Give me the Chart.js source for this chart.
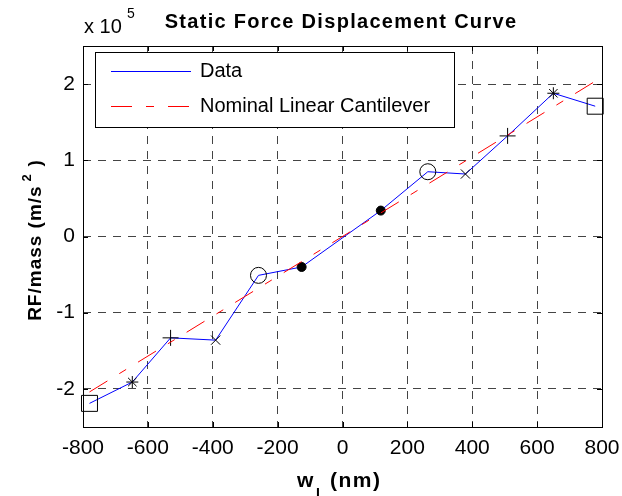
<!DOCTYPE html>
<html>
<head>
<meta charset="utf-8">
<script src="https://cdn.jsdelivr.net/npm/chart.js@4"></script>
<style>
  html, body { margin: 0; padding: 0; background: #fff; }
  #wrap { width: 622px; height: 496px; }
</style>
</head>
<body>
<div id="wrap"><canvas id="c" width="622" height="496"></canvas></div>
<script>
// measured displacement (nm) and RF/mass (m/s^2)
const dispNm = [-780, -648, -530, -391, -259, -126, 118, 263, 379, 509, 650, 779]
const rfMass = [-219000, -191000, -133000, -136000, -51000, -40000, 34000, 85000, 82000, 132000, 188000, 171000]
const markers = ['square', 'asterisk', 'plus', 'x', 'circle', 'dot', 'dot', 'circle', 'x', 'plus', 'asterisk', 'square']

// nominal linear cantilever end points
const nominalX = [-780, 780]
const nominalY = [-204000, 204000]

const xTicks = [-800, -600, -400, -200, 0, 200, 400, 600, 800]
const yTicks = [-200000, -100000, 0, 100000, 200000]

const FONT = "'Liberation Sans', Arial, sans-serif"

const markerStyle = {
    square:   {style: 'rect',     r: 11.3, fill: 'rgba(0,0,0,0)'},
    asterisk: {style: 'star',     r: 6,    fill: 'rgba(0,0,0,0)'},
    plus:     {style: 'cross',    r: 8,    fill: 'rgba(0,0,0,0)'},
    x:        {style: 'crossRot', r: 6.5,  fill: 'rgba(0,0,0,0)'},
    circle:   {style: 'circle',   r: 8,    fill: 'rgba(0,0,0,0)'},
    dot:      {style: 'circle',   r: 4.5,  fill: '#000'},
}

const matlabAxes = {
    id: 'matlabAxes',
    afterDatasetsDraw(chart){
        const {ctx, chartArea: a, scales} = chart
        ctx.save()
        ctx.strokeStyle = '#000'
        ctx.lineWidth = 1
        // inside ticks on all four sides
        ctx.beginPath()
        for (const v of xTicks){
            const px = Math.round(scales.x.getPixelForValue(v)) + 0.5
            ctx.moveTo(px, a.bottom); ctx.lineTo(px, a.bottom - 5)
            ctx.moveTo(px, a.top); ctx.lineTo(px, a.top + 5)
        }
        for (const v of yTicks){
            const py = Math.round(scales.y.getPixelForValue(v)) + 0.5
            ctx.moveTo(a.left, py); ctx.lineTo(a.left + 5, py)
            ctx.moveTo(a.right, py); ctx.lineTo(a.right - 5, py)
        }
        ctx.stroke()
        ctx.strokeRect(Math.round(a.left) + 0.5, Math.round(a.top) + 0.5,
            Math.round(a.right - a.left), Math.round(a.bottom - a.top))

        // legend
        const ds = chart.data.datasets
        const lx = 95, ly = 52, lw = 359, lh = 75
        ctx.fillStyle = '#fff'
        ctx.fillRect(lx, ly, lw, lh)
        ctx.strokeRect(lx + 0.5, ly + 0.5, lw, lh)
        const rows = [71, 106]
        ds.forEach((d, i) => {
            ctx.beginPath()
            ctx.strokeStyle = d.borderColor
            ctx.setLineDash(d.borderDash || [])
            ctx.moveTo(111, rows[i] + 0.5)
            ctx.lineTo(191, rows[i] + 0.5)
            ctx.stroke()
            ctx.setLineDash([])
            ctx.fillStyle = '#000'
            ctx.font = `20px ${FONT}`
            ctx.textBaseline = 'middle'
            ctx.textAlign = 'left'
            ctx.fillText(d.label, 200, rows[i])
        })

        // title, exponent and axis titles
        ctx.fillStyle = '#000'
        ctx.textAlign = 'center'
        ctx.textBaseline = 'alphabetic'
        ctx.font = `bold 20px ${FONT}`
        ctx.letterSpacing = '1.3px'
        ctx.fillText('Static Force Displacement Curve', 341, 28)
        ctx.letterSpacing = '0px'

        ctx.textAlign = 'left'
        ctx.font = `20px ${FONT}`
        ctx.fillText('x 10', 84, 33)
        ctx.font = `14px ${FONT}`
        ctx.fillText('5', 127, 18)

        ctx.font = `bold 21px ${FONT}`
        ctx.fillText('w', 297, 487)
        ctx.font = `bold 14px ${FONT}`
        ctx.fillText('L', 316, 498)
        ctx.font = `bold 21px ${FONT}`
        ctx.letterSpacing = '1.5px'
        ctx.fillText('(nm)', 330, 487)
        ctx.letterSpacing = '0px'

        ctx.translate(41, 240)
        ctx.rotate(-Math.PI / 2)
        ctx.textAlign = 'center'
        ctx.font = `bold 19px ${FONT}`
        ctx.letterSpacing = '1px'
        ctx.fillText('RF/mass (m/s   )', 0, 0)
        ctx.letterSpacing = '0px'
        ctx.font = `bold 13px ${FONT}`
        ctx.fillText('2', 62, -10)
        ctx.restore()
    }
}

new Chart(document.getElementById('c'), {
    type: 'scatter',
    data: {
        datasets: [
            {
                label: 'Data',
                data: dispNm.map((x, i) => ({x, y: rfMass[i]})),
                showLine: true,
                borderColor: '#0000ff',
                borderWidth: 1,
                pointStyle: markers.map(m => markerStyle[m].style),
                pointRadius: markers.map(m => markerStyle[m].r),
                pointBackgroundColor: markers.map(m => markerStyle[m].fill),
                pointBorderColor: '#000',
                pointBorderWidth: 1,
                clip: false,
                order: 2,
            },
            {
                label: 'Nominal Linear Cantilever',
                data: nominalX.map((x, i) => ({x, y: nominalY[i]})),
                showLine: true,
                borderColor: '#ff0000',
                borderWidth: 1,
                borderDash: [21, 14, 8, 14],
                pointRadius: 0,
                order: 1,
            }
        ]
    },
    options: {
        responsive: false,
        animation: false,
        layout: {padding: {left: 0, top: 46, right: 20, bottom: 0}},
        scales: {
            x: {
                type: 'linear',
                min: -800,
                max: 800,
                afterBuildTicks: axis => { axis.ticks = xTicks.map(v => ({value: v})) },
                afterFit: axis => {
                    axis.height = 69
                    axis.paddingLeft = 0
                    axis.paddingRight = 0
                },
                grid: {color: '#444', lineWidth: 1, drawTicks: false},
                border: {display: false, dash: [8, 7]},
                ticks: {color: '#000', font: {family: FONT, size: 21}, padding: 9, maxRotation: 0},
            },
            y: {
                type: 'linear',
                min: -250000,
                max: 250000,
                afterBuildTicks: axis => { axis.ticks = yTicks.map(v => ({value: v})) },
                afterFit: axis => {
                    axis.width = 83
                    axis.paddingTop = 0
                    axis.paddingBottom = 0
                },
                grid: {color: '#444', lineWidth: 1, drawTicks: false},
                border: {display: false, dash: [8, 7]},
                ticks: {
                    color: '#000', font: {family: FONT, size: 21}, padding: 8,
                    callback: v => v / 100000,
                },
            }
        },
        plugins: {
            legend: {display: false},
            tooltip: {enabled: false},
        }
    },
    plugins: [matlabAxes]
})
</script>
</body>
</html>
